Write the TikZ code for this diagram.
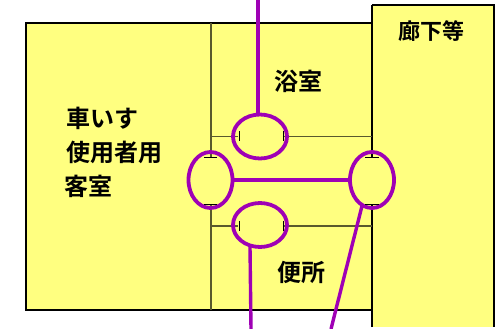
\documentclass[tikz,border=0pt]{standalone}
\usepackage{fontspec}
\setmainfont{Noto Sans CJK JP}[BoldFont={Noto Sans CJK JP Medium}]
\newfontfamily\jpbold{Noto Sans CJK JP Bold}
\usetikzlibrary{shapes.geometric}
\definecolor{roomfill}{HTML}{FFFF80}
\definecolor{door}{HTML}{9F00B5}
\tikzset{
  x=1pt,y=-1pt,
  wall/.style={draw=black,line width=1.6pt},
  thinwall/.style={draw=black!65!roomfill,line width=1.2pt},
  tick/.style={draw=black,line width=0.8pt},
  doorloop/.style={shape=ellipse,draw=door,line width=3.8pt,inner sep=0pt,outer sep=0pt},
  link/.style={draw=door,line width=3.4pt},
  label/.style={font=\jpbold\fontsize{24}{28}\selectfont,inner sep=0pt,text=black,anchor=west}
}
\begin{document}
\begin{tikzpicture}
\useasboundingbox (0,0) rectangle (499,329);
\fill[white] (0,0) rectangle (499,329);
% rooms
\fill[roomfill] (26,23) rectangle (372,310);
\fill[roomfill] (372,5) rectangle (494,327);
\draw[wall] (372,23) -- (26,23) -- (26,310) -- (372,310);
\draw[wall] (372,327) -- (372,204) (372,157) -- (372,5);
\draw[wall] (372,5) -- (494,5) -- (494,327);
% partitions
\draw[thinwall] (211,23) -- (211,157) (211,204) -- (211,310);
\draw[thinwall] (211,136.5) -- (238,136.5) (283,136.5) -- (372,136.5);
\draw[thinwall] (211,226) -- (238,226) (283,226) -- (372,226);
% door loops
\node[doorloop,minimum width=54pt,minimum height=44pt] (bath) at (260,136.5) {};
\node[doorloop,minimum width=54pt,minimum height=44pt] (wc) at (260,225) {};
\node[doorloop,minimum width=44pt,minimum height=56pt] (room) at (210.5,180) {};
\node[doorloop,minimum width=44pt,minimum height=56pt] (hall) at (372,180) {};
% door ticks
\draw[tick] (239,131.5) -- (239,141.5) (283,131.5) -- (283,141.5);
\draw[tick] (239,221) -- (239,231) (283,221) -- (283,231);
\draw[tick] (204,157.5) -- (217,157.5) (204,204) -- (217,204);
\draw[tick] (365,157.5) -- (379,157.5) (365,204) -- (379,204);
\coordinate (topend) at (258,0);
\coordinate (wcend) at (251,329);
\coordinate (hallend) at (331,329);
\draw[link] (topend) -- (bath.north -| topend);
\draw[link] (room.east) -- (hall.west);
\draw[link] (250,246.5) -- (wcend);
\draw[link] (362,206) -- (hallend);
% labels
\node[label] (t1) at (66,118) {車いす};
\node[label] (t2) at (66,152) {使用者用};
\node[label] (t3) at (64,186) {客室};
\node[label] (t4) at (274,81) {浴室};
\node[label] (t5) at (277,272) {便所};
\node[label,font=\jpbold\fontsize{22}{26}\selectfont] (t6) at (398,31) {廊下等};
\end{tikzpicture}
\end{document}
